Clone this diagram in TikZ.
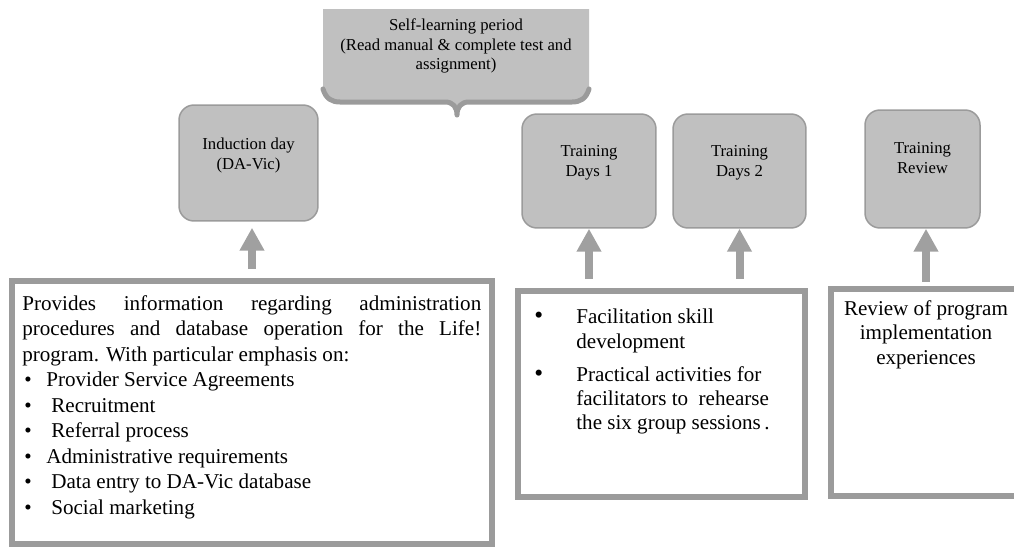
\documentclass[tikz,border=0pt]{standalone}
\usepackage{fontspec}
\setmainfont{Liberation Serif}
\usetikzlibrary{arrows.meta, positioning}
\definecolor{stagefill}{RGB}{192,192,192}
\definecolor{stageline}{RGB}{155,155,155}
\definecolor{arrowgray}{RGB}{160,160,160}
\definecolor{panelline}{RGB}{155,155,155}
\newcommand{\dotitem}[2][0.44cm]{\hspace*{0.04cm}\makebox[#1][l]{\large\textbullet}#2}
\newcommand{\bigdot}{\makebox[0.84cm][l]{\Large\textbullet}}

\begin{document}
\begin{tikzpicture}[x=0.02cm, y=-0.02cm,
    stage/.style={rectangle, rounded corners=0.3cm, draw=stageline, line width=0.03cm,
                  fill=stagefill, inner sep=0pt},
    stagetext/.style={inner sep=0pt, align=center, font=\fontsize{9.5}{11.3}\selectfont},
    panel/.style={rectangle, draw=panelline, line width=0.12cm, inner sep=0pt},
    paneltext/.style={inner sep=0pt, font=\fontsize{12}{14.5}\selectfont},
    uparrow/.style={draw=arrowgray, line width=0.16cm,
                    -{Triangle[width=0.47cm, length=0.46cm]}},
    brace/.style={draw=stageline, line width=0.1cm, line cap=round, line join=round}]

    \useasboundingbox (0,0) rectangle (1014,548);
    \clip (0,0) rectangle (1014,548);

    % Self-learning period
    \fill[stagefill] (323,9) -- (589,9) -- (589,89)
        .. controls (586,99) and (580,102) .. (572,102) -- (469,102)
        .. controls (461,102) and (457,107) .. (457,115)
        .. controls (457,107) and (453,102) .. (445,102) -- (340,102)
        .. controls (332,102) and (326,99) .. (323,89) -- cycle;
    \draw[brace] (323,89) .. controls (326,99) and (332,102) .. (340,102)
        -- (445,102) .. controls (453,102) and (457,107) .. (457,115)
        .. controls (457,107) and (461,102) .. (469,102) -- (572,102)
        .. controls (580,102) and (586,99) .. (589,89);
    \node[stagetext, minimum width=5.32cm, minimum height=1.4cm] (self) at (456,46)
        {Self-learning period\\(Read manual \& complete test and\\assignment)};

    % Stages
    \node[stage, minimum width=2.78cm, minimum height=2.32cm] (ind) at (248.5,163) {};
    \node[stage, minimum width=2.68cm, minimum height=2.28cm] (td1) at (589,171) {};
    \node[stage, minimum width=2.66cm, minimum height=2.28cm] (td2) at (739.5,171) {};
    \node[stage, minimum width=2.3cm, minimum height=2.36cm] (rev) at (922.5,169) {};

    \node[stagetext, below=0.66cm of ind.north] (ind-t) {Induction day\\(DA-Vic)};
    \node[stagetext, below=0.64cm of td1.north] (td1-t) {Training\\Days 1};
    \node[stagetext, below=0.64cm of td2.north] (td2-t) {Training\\Days 2};
    \node[stagetext, below=0.66cm of rev.north] (rev-t) {Training\\Review};

    % Panels
    \node[panel, minimum width=9.6cm, minimum height=5.26cm] (lbox) at (252,412.5) {};
    \node[panel, minimum width=5.76cm, minimum height=4.14cm] (mbox) at (661.5,394) {};
    \node[panel, minimum width=3.8cm, minimum height=4.14cm] (rbox) at (926,392.5) {};

    \node[paneltext, anchor=north west, align=left] (lbox-t) at (22,295)
        {\makebox[9.18cm][s]{Provides information regarding administration}\\
         \makebox[9.18cm][s]{procedures and database operation for the Life!}\\
         program. With particular emphasis on:\\
         \dotitem{Provider Service Agreements}\\
         \dotitem[0.54cm]{Recruitment}\\
         \dotitem[0.54cm]{Referral process}\\
         \dotitem{Administrative requirements}\\
         \dotitem[0.54cm]{Data entry to DA-Vic database}\\
         \dotitem[0.54cm]{Social marketing}};
    \node[paneltext, anchor=north west, align=left,
          font=\fontsize{12}{13.7}\selectfont] (mbox-t) at (534,309)
        {\bigdot Facilitation skill\\
         \hspace*{0.84cm}development\\[0.18cm]
         \bigdot Practical activities for\\
         \hspace*{0.84cm}facilitators to~ rehearse\\
         \hspace*{0.84cm}the six group sessions\,.};
    \node[paneltext, anchor=north, align=center,
          font=\fontsize{12}{13.9}\selectfont] (rbox-t) at (926,300)
        {Review of program\\implementation\\experiences};

    % Arrows
    \draw[uparrow, shorten <=0.18cm, shorten >=0.12cm] (lbox.north) -- (lbox.north |- ind.south);
    \draw[uparrow, shorten <=0.17cm] (td1.south |- mbox.north) -- (td1.south);
    \draw[uparrow, shorten <=0.17cm] (td2.south |- mbox.north) -- (td2.south);
    \draw[uparrow, shorten <=0.08cm] (rbox.north) -- (rbox.north |- rev.south);
\end{tikzpicture}
\end{document}
